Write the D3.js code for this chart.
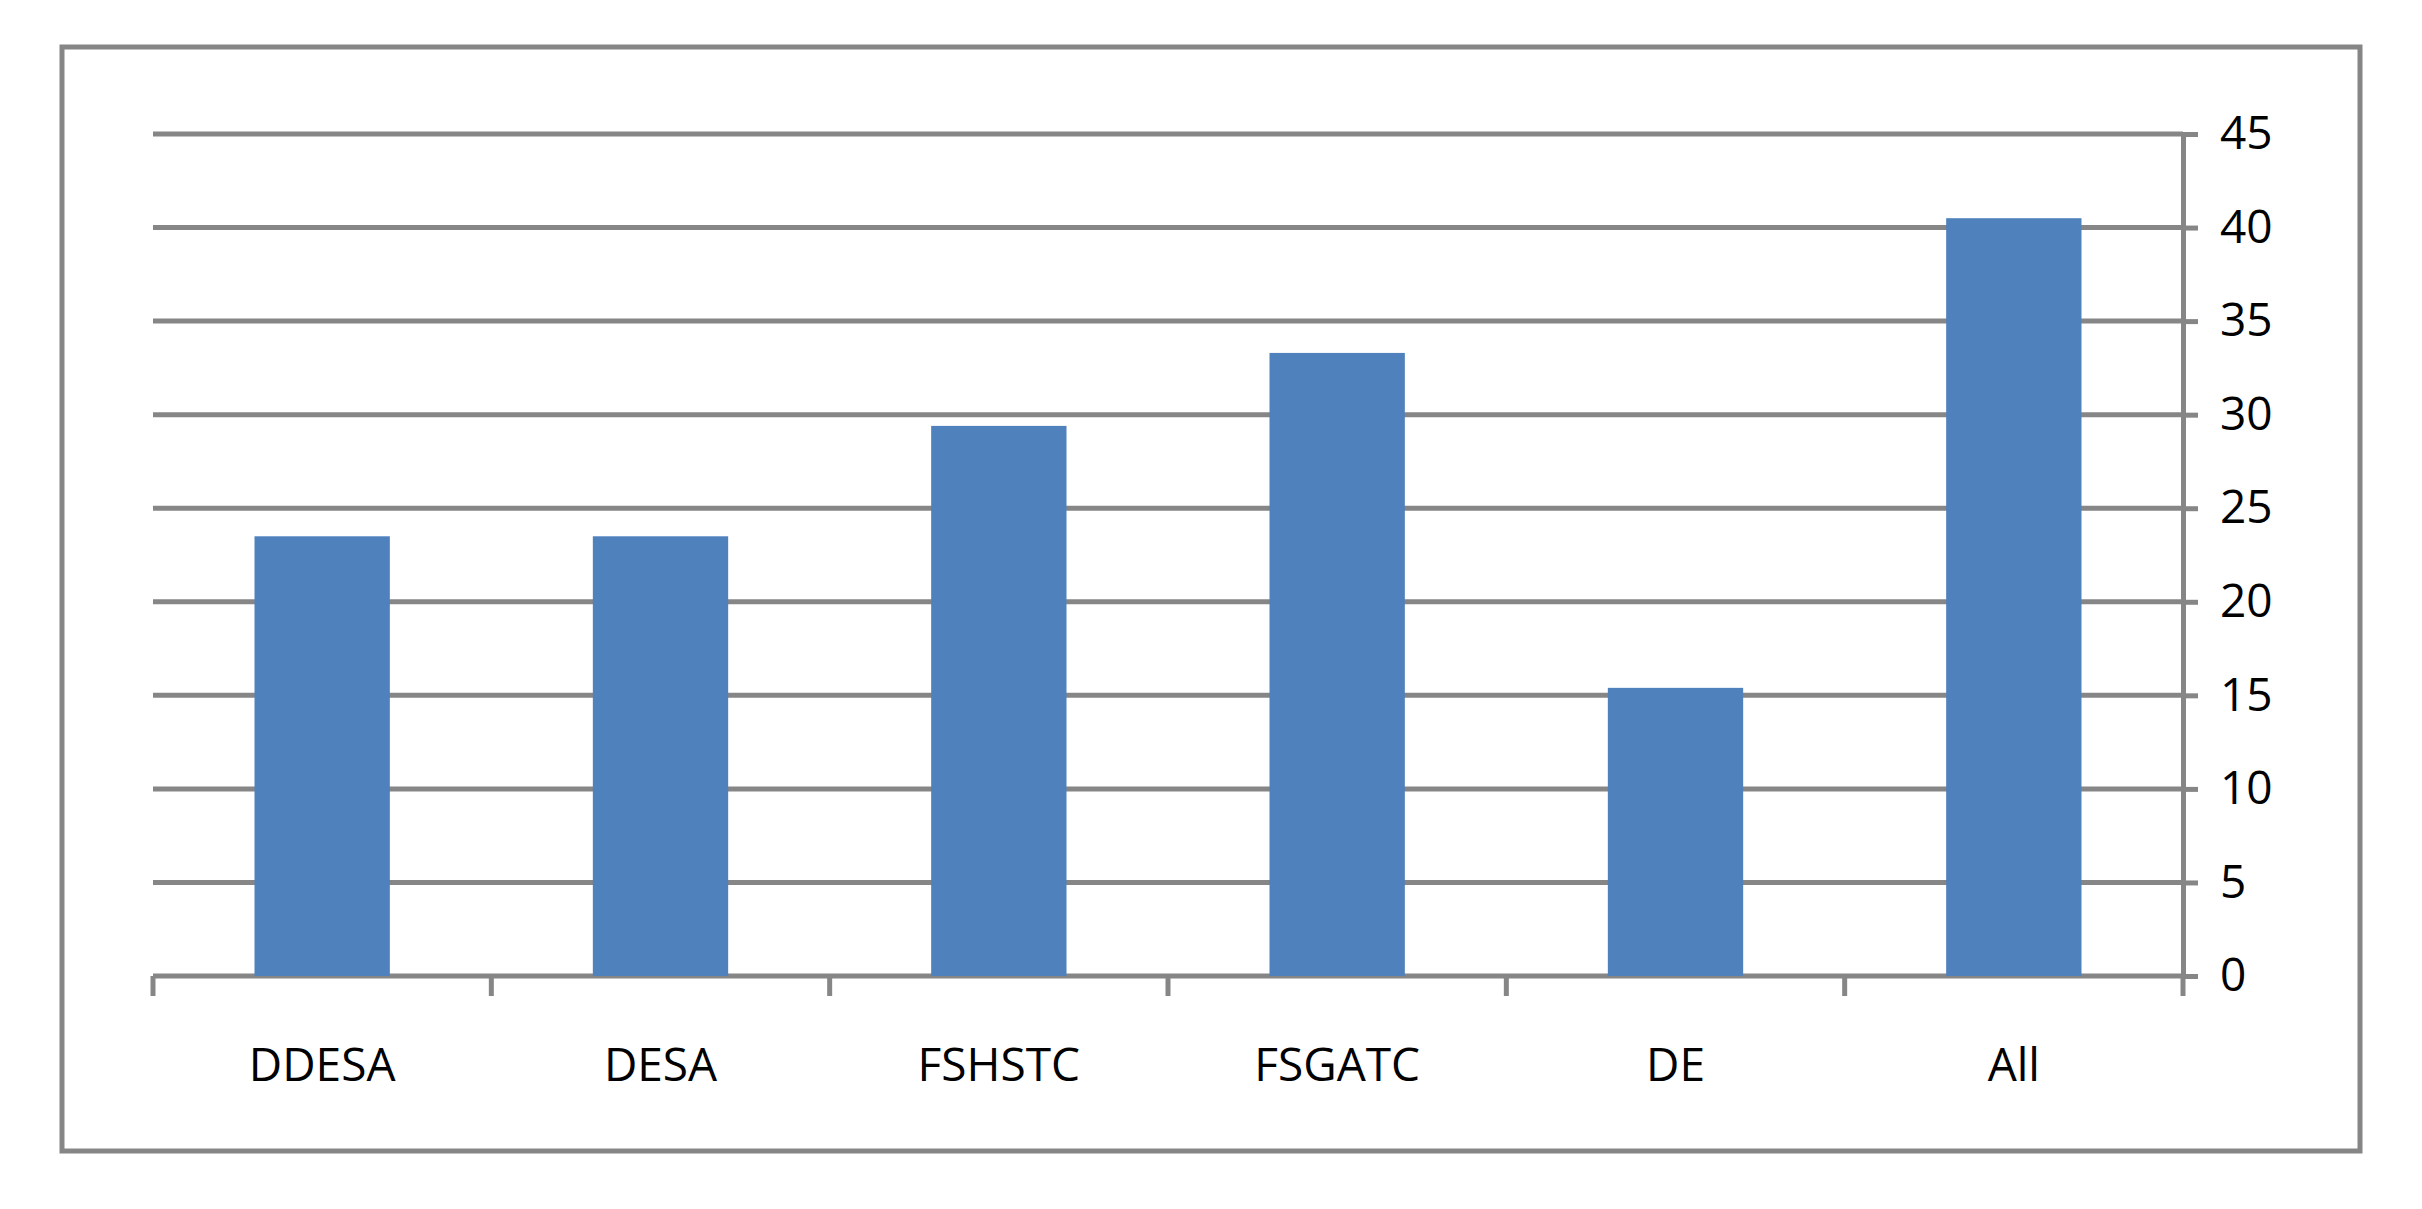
<!DOCTYPE html>
<html>
<head>
<meta charset="utf-8">
<script src="https://cdn.jsdelivr.net/npm/d3@7"></script>
<style>
  body { margin: 0; background: #fff; }
  text { font-family: "Open Sans", "Noto Sans", sans-serif; fill: #000; }
</style>
</head>
<body>
<svg id="chart" width="2422" height="1209"></svg>
<script>
const categories = ["DDESA", "DESA", "FSHSTC", "FSGATC", "DE", "All"];
const values = [23.5, 23.5, 29.4, 33.3, 15.4, 40.5];
const yTicks = [0, 5, 10, 15, 20, 25, 30, 35, 40, 45];

const svg = d3.select("#chart");
const grey = "#868686";

// outer frame
svg.append("rect")
    .attr("x", 62).attr("y", 47)
    .attr("width", 2298).attr("height", 1104)
    .attr("fill", "none").attr("stroke", grey).attr("stroke-width", 5);

const plotLeft = 153, plotRight = 2183, plotTop = 134, plotBottom = 976;

const x = d3.scaleBand().domain(categories).range([plotLeft, plotRight]).paddingInner(0.6).paddingOuter(0.3);
const y = d3.scaleLinear().domain([0, 45]).range([plotBottom, plotTop]);

// gridlines
svg.selectAll(".grid")
    .data(yTicks)
    .enter().append("line")
    .attr("x1", plotLeft).attr("x2", plotRight)
    .attr("y1", d => y(d)).attr("y2", d => y(d))
    .attr("stroke", grey).attr("stroke-width", 5);

// bars
svg.selectAll(".bar")
    .data(values)
    .enter().append("rect")
    .attr("x", (d, i) => x(categories[i]))
    .attr("y", d => y(d))
    .attr("width", x.bandwidth())
    .attr("height", d => plotBottom - y(d))
    .attr("fill", "#4f81bd");

// right y axis
const yAxis = svg.append("g")
    .attr("transform", `translate(${plotRight},0)`)
    .call(d3.axisRight(y).tickValues(yTicks).tickSize(15).tickPadding(22));
yAxis.select(".domain").attr("stroke", grey).attr("stroke-width", 5);
yAxis.selectAll(".tick line").attr("stroke", grey).attr("stroke-width", 5);
yAxis.selectAll(".tick text").attr("font-size", 46).attr("fill", "#000");

// category boundary ticks
const step = (plotRight - plotLeft) / categories.length;
svg.selectAll(".ctick")
    .data(d3.range(categories.length + 1))
    .enter().append("line")
    .attr("x1", i => plotLeft + i * step).attr("x2", i => plotLeft + i * step)
    .attr("y1", plotBottom).attr("y2", plotBottom + 20)
    .attr("stroke", grey).attr("stroke-width", 5);

// category labels
svg.selectAll(".clabel")
    .data(categories)
    .enter().append("text")
    .attr("x", d => x(d) + x.bandwidth() / 2)
    .attr("y", 1081)
    .attr("text-anchor", "middle")
    .attr("font-size", 46)
    .text(d => d);
</script>
</body>
</html>
